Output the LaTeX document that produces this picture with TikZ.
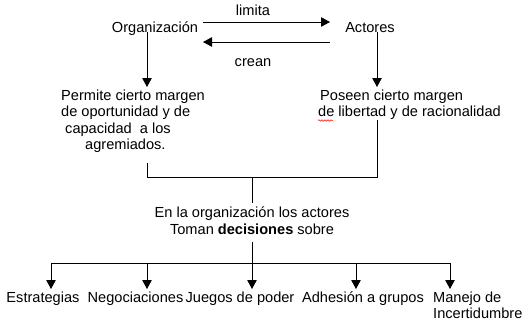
\documentclass[tikz,border=0pt]{standalone}
\usepackage{fontspec}
\setmainfont{Liberation Sans}
\usetikzlibrary{arrows.meta,decorations.pathmorphing}
\begin{document}
\begin{tikzpicture}[x=1pt,y=-1pt,
  txt/.style={inner sep=0pt,anchor=base,font=\fontsize{14.6}{16.5}\selectfont},
  ltxt/.style={txt,anchor=base west,align=left},
  line/.style={line width=0.9pt},
  arr/.style={line,-{Triangle[length=9pt,width=9.5pt]}}]
\useasboundingbox (0,0) rectangle (528,330);
% top row
\node[txt] (org) at (155,32) {Organización};
\node[txt] (act) at (370,32) {Actores};
\node[txt] (lim) at (253,15) {limita};
\node[txt] (cre) at (253,66) {crean};
\coordinate (t1) at (203,22); \coordinate (t2) at (330,22);
\coordinate (b1) at (330,42); \coordinate (b2) at (203,42);
\draw[arr] (t1) -- (t2);
\draw[arr] (b1) -- (b2);
% second row (base anchor = baseline of last line)
\node[ltxt] (perm) at (61,149.5) {Permite cierto margen\\de oportunidad y de\\\hspace{4pt}capacidad\ \ a los\\\hspace{24pt}agremiados.};
\node[ltxt] (pos) at (320,116.5) {Poseen cierto margen\\\hspace{-2pt}de libertad y de racionalidad};
\draw[red,line width=0.5pt,decorate,decoration={snake,amplitude=0.8pt,segment length=3pt}] (318,120.5) -- (333,120.5);
\coordinate (ls) at (147,32); \coordinate (le) at (147,87);
\coordinate (rs) at (377,32); \coordinate (re) at (377,87);
\draw[arr] (ls) -- (le);
\draw[arr] (rs) -- (re);
% join
\coordinate (l2) at (147,163); \coordinate (r2) at (377,120);
\coordinate (jl) at (147,177); \coordinate (jr) at (377,177);
\coordinate (jc) at (252,177); \coordinate (jd) at (252,203);
\draw[line] (l2) -- (jl) -- (jr) -- (r2);
\draw[line] (jc) -- (jd);
\node[txt,align=center] (dec) at (252,234) {En la organización los actores\\Toman \textbf{decisiones} sobre};
% bottom
\coordinate (c1) at (252,242); \coordinate (c2) at (252,263);
\draw[line] (c1) -- (c2);
\coordinate (h1) at (51,263); \coordinate (h2) at (147,263);
\coordinate (h4) at (356,263); \coordinate (h5) at (450,263);
\draw[line] (h1) -- (h5);
\node[txt] (e1) at (43,302) {Estrategias};
\node[txt] (e2) at (135.5,302) {Negociaciones};
\node[txt] (e3) at (240,302) {Juegos de poder};
\node[txt] (e4) at (363,302) {Adhesión a grupos};
\node[ltxt] (e5) at (433,318.5) {Manejo de\\Incertidumbre};
\draw[arr] (h1) -- (51,289);
\draw[arr] (h2) -- (147,289);
\draw[arr] (c2) -- (252,289);
\draw[arr] (h4) -- (356,289);
\draw[arr] (h5) -- (450,289);
\end{tikzpicture}
\end{document}
